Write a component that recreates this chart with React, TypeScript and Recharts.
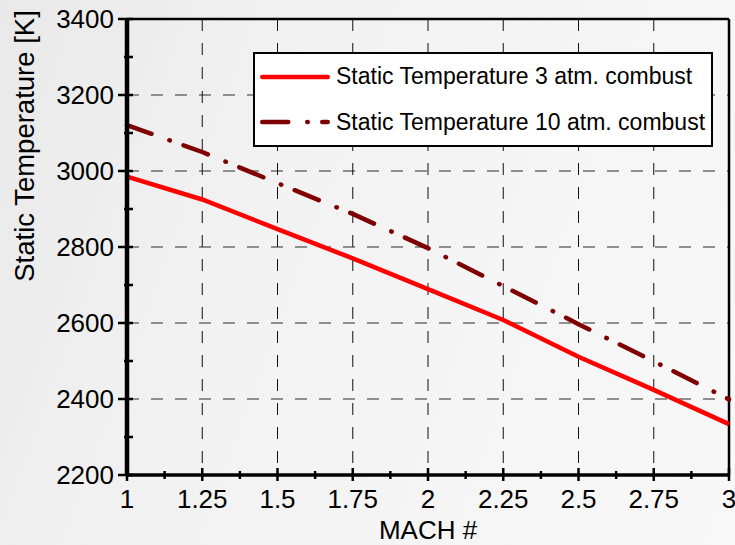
import React from "react";
import {
  LineChart,
  Line,
  XAxis,
  YAxis,
  CartesianGrid,
  ReferenceLine,
  Legend,
  Label,
} from "recharts";

const FONT = '"Liberation Sans", Arial, sans-serif';

// Mach number samples and static temperatures [K]
const mach = [1, 1.25, 1.5, 1.75, 2, 2.25, 2.5, 2.75, 3];
const temp3atm = [2985, 2925, 2847, 2770, 2689, 2608, 2511, 2424, 2334];
const temp10atm = [3121, 3050, 2968, 2887, 2797, 2697, 2597, 2499, 2399];

const seriesNames = ["Static Temperature 3 atm. combust", "Static Temperature 10 atm. combust"];

const xTicks = [1, 1.125, 1.25, 1.375, 1.5, 1.625, 1.75, 1.875, 2, 2.125, 2.25, 2.375, 2.5, 2.625, 2.75, 2.875, 3];
const yTicks = [2200, 2300, 2400, 2500, 2600, 2700, 2800, 2900, 3000, 3100, 3200, 3300, 3400];
const xGrid = [1.25, 1.5, 1.75, 2, 2.25, 2.5, 2.75];
const yGrid = [2400, 2600, 2800, 3000, 3200];

const data = mach.map((m, i) => ({ mach: m, t3: temp3atm[i], t10: temp10atm[i] }));

const DASH_DOT = "26 19 0.5 14.5";

function YTick({ x, y, payload }: any) {
  const v = payload.value;
  const major = v % 200 === 0;
  return (
    <g>
      <line x1={major ? x - 9 : x - 3} x2={x + 6} y1={y} y2={y} stroke="#000" strokeWidth={2.5} />
      {major && (
        <text x={x - 13} y={y} textAnchor="end" dominantBaseline="central" fontSize={26} fontFamily={FONT} fill="#000">
          {v}
        </text>
      )}
    </g>
  );
}

function XTick({ x, y, payload }: any) {
  const v = payload.value;
  const major = Math.abs(v * 4 - Math.round(v * 4)) < 1e-6;
  return (
    <g>
      <line x1={x} x2={x} y1={major ? y - 7 : y - 4} y2={major ? y + 6 : y + 4} stroke="#000" strokeWidth={2.5} />
      {major && (
        <text x={x} y={y + 24} textAnchor="middle" dominantBaseline="central" fontSize={26} fontFamily={FONT} fill="#000">
          {v}
        </text>
      )}
    </g>
  );
}

function LegendBox({ payload }: any) {
  // keep the series in plotting order rather than the legend's sorted order
  const items = seriesNames
    .map((name) => (payload || []).find((p: any) => p.value === name))
    .filter(Boolean);
  return (
    <div
      style={{
        width: 456,
        height: 91,
        border: "2px solid #000",
        background: "#fff",
        fontFamily: FONT,
        fontSize: 23,
        color: "#000",
        display: "flex",
        flexDirection: "column",
        justifyContent: "center",
        boxSizing: "content-box",
      }}
    >
      {items.map((entry: any) => (
        <div key={entry.value} style={{ display: "flex", alignItems: "center", height: 48, whiteSpace: "nowrap" }}>
          <svg width={80} height={10} style={{ display: "block" }}>
            <line
              x1={7.25}
              x2={72.75}
              y1={5}
              y2={5}
              stroke={entry.color}
              strokeWidth={4.5}
              strokeLinecap="round"
              strokeDasharray={entry.payload?.strokeDasharray}
            />
          </svg>
          <span style={{ marginLeft: 1 }}>{entry.value}</span>
        </div>
      ))}
    </div>
  );
}

export default function App() {
  return (
    <div
      style={{
        position: "absolute",
        left: 0,
        top: 0,
        width: 735,
        height: 545,
        background: "linear-gradient(110deg, #e9e9e9 0%, #f2f2f2 35%, #f8f8f8 100%)",
      }}
    >
      <LineChart width={735} height={545} data={data} margin={{ top: 19, right: 6, bottom: 0, left: 0 }}>
        <CartesianGrid
          vertical={false}
          horizontalValues={yGrid}
          stroke="#6e6e6e"
          strokeWidth={1.5}
          strokeDasharray="12 12"
        />
        <CartesianGrid
          horizontal={false}
          verticalValues={xGrid}
          stroke="#111"
          strokeWidth={1}
          strokeDasharray="12 12"
        />
        <XAxis
          dataKey="mach"
          type="number"
          domain={[1, 3]}
          ticks={xTicks}
          interval={0}
          height={70}
          tickSize={0}
          tickMargin={0}
          tickLine={false}
          tick={<XTick />}
          axisLine={{ stroke: "#000", strokeWidth: 3.5 }}
        >
          <Label
            content={({ viewBox }: any) => (
              <text
                x={viewBox.x + viewBox.width / 2}
                y={530}
                textAnchor="middle"
                dominantBaseline="central"
                fontSize={26}
                fontFamily={FONT}
                fill="#000"
              >
                MACH #
              </text>
            )}
          />
        </XAxis>
        <YAxis
          type="number"
          domain={[2200, 3400]}
          ticks={yTicks}
          interval={0}
          width={127}
          tickSize={0}
          tickMargin={0}
          tickLine={false}
          tick={<YTick />}
          axisLine={{ stroke: "#000", strokeWidth: 4.5 }}
        >
          <Label
            content={() => (
              <text
                x={24}
                y={146}
                transform="rotate(-90 24 146)"
                textAnchor="middle"
                dominantBaseline="central"
                fontSize={27.5}
                fontFamily={FONT}
                fill="#000"
              >
                Static Temperature [K]
              </text>
            )}
          />
        </YAxis>
        <ReferenceLine y={3400} stroke="#000" strokeWidth={2.5} />
        <ReferenceLine x={3} stroke="#000" strokeWidth={2.5} />
        <Line
          dataKey="t3"
          name={seriesNames[0]}
          type="linear"
          stroke="#ff0000"
          strokeWidth={4.5}
          dot={false}
          isAnimationActive={false}
        />
        <Line
          dataKey="t10"
          name={seriesNames[1]}
          type="linear"
          stroke="#7f0000"
          strokeWidth={4.5}
          strokeLinecap="round"
          strokeDasharray={DASH_DOT}
          dot={false}
          isAnimationActive={false}
        />
        <Legend
          layout="vertical"
          align="center"
          verticalAlign="middle"
          content={<LegendBox />}
          wrapperStyle={{ top: 52, left: 253, width: 460, height: 95 }}
        />
      </LineChart>
    </div>
  );
}
